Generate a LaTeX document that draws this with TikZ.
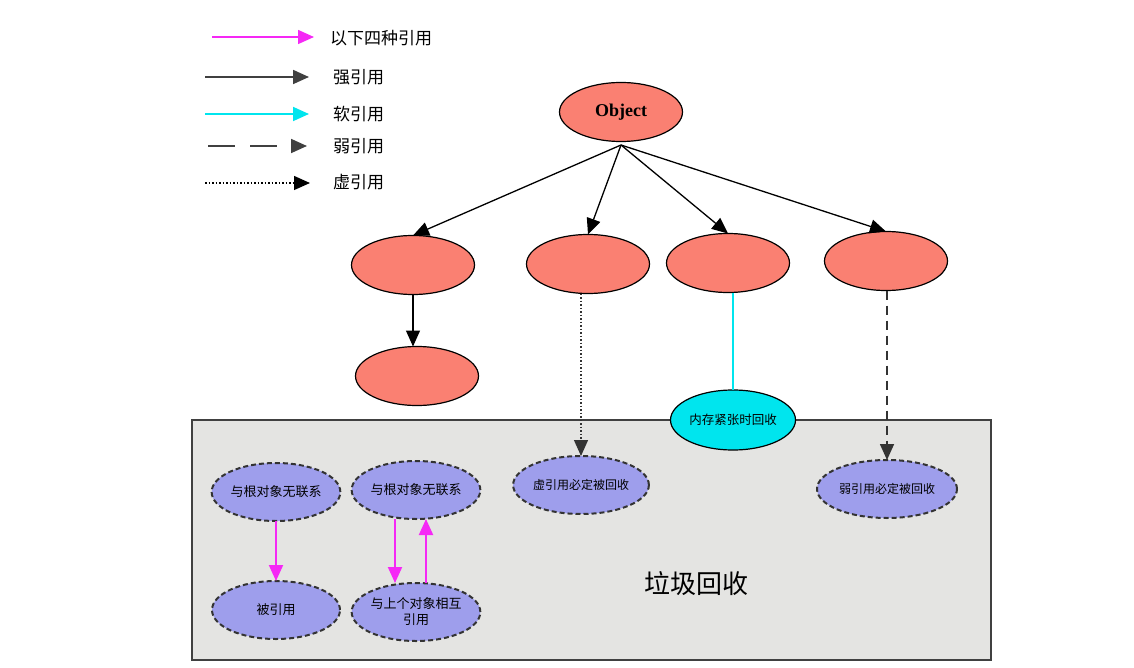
\documentclass[tikz,border=0pt]{standalone}
\usepackage{fontspec}
\setmainfont{Liberation Serif}
\newfontfamily\cjk{Noto Sans CJK SC}
\usetikzlibrary{shapes.geometric,arrows.meta}
\definecolor{objred}{RGB}{250,128,114}
\definecolor{softcyan}{RGB}{0,229,238}
\definecolor{gcblue}{RGB}{158,158,236}
\definecolor{gcgray}{RGB}{228,228,226}
\definecolor{refpink}{RGB}{245,40,245}
\tikzset{
  objnode/.style={ellipse, draw=black, fill=objred, line width=1.2pt, minimum width=123pt, minimum height=59pt},
  gcnode/.style={ellipse, draw=black!80, fill=gcblue, dash pattern=on 5pt off 3pt, line width=2pt, minimum width=128pt, minimum height=58pt, align=center, font=\cjk\fontsize{13}{16}\selectfont},
  legendtext/.style={anchor=west, font=\cjk\fontsize{17}{20}\selectfont},
  reftip/.style={-{Triangle[length=16pt,width=14pt]}},
}
\begin{document}
\begin{tikzpicture}[y=1pt, x=1pt, yscale=-1, inner sep=0pt, outer sep=0pt]
\useasboundingbox[fill=white] (0,0) rectangle (1134,668);
  \coordinate (l1a) at (212,37);  \coordinate (l1b) at (314,37);
  \coordinate (l2a) at (205,77);  \coordinate (l2b) at (309,77);
  \coordinate (l3a) at (205,114); \coordinate (l3b) at (309,114);
  \coordinate (l4a) at (208,146); \coordinate (l4b) at (307,146);
  \coordinate (l5a) at (205,183); \coordinate (l5b) at (310,183);
  \path[draw=refpink,line width=1.5pt,reftip] (l1a) -- (l1b);
  \path[draw=black!75,line width=1.8pt,reftip] (l2a) -- (l2b);
  \path[draw=softcyan,line width=1.8pt,reftip] (l3a) -- (l3b);
  \path[draw=black!75,line width=1.8pt,dash pattern=on 27pt off 15pt,reftip] (l4a) -- (l4b);
  \path[draw=black,line width=1.3pt,dash pattern=on 1.5pt off 2pt,reftip] (l5a) -- (l5b);
  \node[legendtext] (t1) at (330,38) {以下四种引用};
  \node[legendtext] (t2) at (333,77) {强引用};
  \node[legendtext] (t3) at (333,114) {软引用};
  \node[legendtext] (t4) at (333,146) {弱引用};
  \node[legendtext] (t5) at (333,182) {虚引用};
  \path[draw=black!75,fill=gcgray,line width=2pt] (192,420) rectangle (991,660);
  \node[font=\cjk\fontsize{26}{30}\selectfont] (gc) at (696,584) {垃圾回收};
  \node[objnode] (obj) at (621,112) {\bfseries\fontsize{18}{20}\selectfont Object};
  \node[objnode] (e1) at (413,265) {};
  \node[objnode] (e2) at (588,264) {};
  \node[objnode] (e3) at (728,263) {};
  \node[objnode] (e4) at (886,261) {};
  \node[objnode] (e5) at (417,376) {};
  \coordinate (o) at (621,145);
  \path[draw=black,line width=1.3pt,reftip] (o) -- (e1.north);
  \path[draw=black,line width=1.3pt,reftip] (o) -- (e2.north);
  \path[draw=black,line width=1.3pt,reftip] (o) -- (e3.north);
  \path[draw=black,line width=1.3pt,reftip] (o) -- (e4.north);
  \path[draw=black,line width=1.3pt,reftip] (e1) -- (e1 |- e5.north);
  \node[gcnode,minimum width=134pt,font=\cjk\fontsize{12}{15}\selectfont] (phantom) at (581,485) {虚引用必定被回收};
  \node[gcnode,minimum width=140pt,font=\cjk\fontsize{12}{15}\selectfont] (weak) at (887,489) {弱引用必定被回收};
  \node[ellipse, draw=black, fill=softcyan, line width=1.2pt, minimum width=125pt, minimum height=60pt, font=\cjk\fontsize{12.5}{15}\selectfont] (soft) at (733,420) {内存紧张时回收};
  \path[draw=black!80,line width=1.3pt,dash pattern=on 1.5pt off 2pt,reftip] (e2.south -| phantom) -- (phantom);
  \path[draw=softcyan,line width=2pt] (e3.south -| soft) -- (soft);
  \path[draw=black!80,line width=1.6pt,dash pattern=on 9pt off 6pt,reftip] (e4.south -| weak) -- (weak);
  \node[gcnode] (n1) at (276,492) {与根对象无联系};
  \node[gcnode] (n2) at (416,490) {与根对象无联系};
  \node[gcnode] (n3) at (276,610) {被引用};
  \node[gcnode] (n4) at (416,612) {与上个对象相互\\引用};
  \path[draw=refpink,line width=2pt,reftip] (n1) -- (n3);
  \path[draw=refpink,line width=2pt,reftip] ([xshift=-21pt]n2.south) -- ([xshift=-21pt]n4.north);
  \path[draw=refpink,line width=2pt,reftip] ([xshift=10pt]n4.north) -- ([xshift=10pt]n2.south);
\end{tikzpicture}
\end{document}
